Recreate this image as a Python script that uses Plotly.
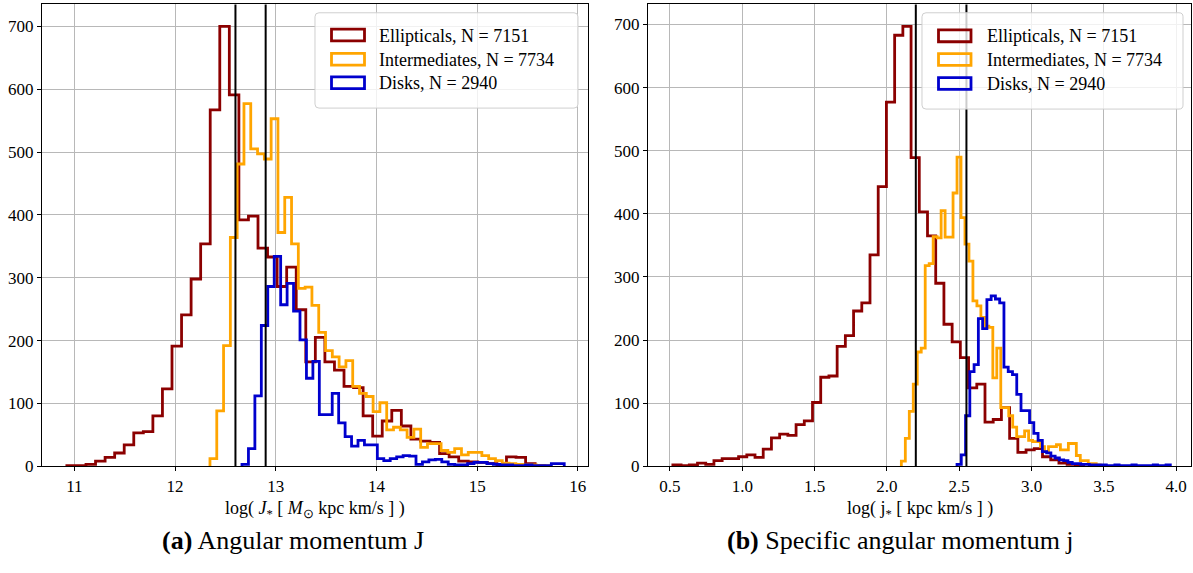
import numpy as np
import plotly.graph_objects as go

# ---------------------------------------------------------------------------
# Histogram data: counts in 50 equal-width bins between the given limits
# ---------------------------------------------------------------------------
# log(J*) [Msun kpc km/s]
J_ELL_LIMITS = (10.926, 15.671)
J_ELL_COUNTS = [1, 1, 3, 8, 14, 21, 34, 53, 55, 80,
                123, 191, 241, 298, 354, 567, 700, 591, 392, 398,
                347, 333, 286, 317, 249, 166, 205, 166, 153, 127,
                125, 80, 48, 72, 89, 64, 43, 40, 38, 20,
                15, 8, 7, 6, 4, 2, 15, 14, 4, 1]

J_INT_LIMITS = (12.347, 15.722)
J_INT_COUNTS = [12, 88, 192, 364, 481, 577, 505, 497, 489, 553,
                372, 428, 354, 283, 285, 256, 213, 184, 174, 158,
                168, 127, 116, 111, 87, 101, 58, 62, 58, 46,
                59, 30, 36, 36, 25, 22, 28, 18, 22, 22,
                17, 12, 9, 5, 4, 3, 2, 2, 1, 1]

J_DISK_LIMITS = (12.665, 15.865)
J_DISK_COUNTS = [3, 28, 112, 224, 286, 334, 257, 291, 247, 201,
                 140, 167, 82, 82, 116, 69, 47, 32, 41, 34,
                 34, 12, 9, 12, 15, 17, 16, 3, 7, 10,
                 11, 7, 3, 2, 2, 4, 6, 6, 4, 3,
                 2, 2, 1, 1, 2, 1, 1, 1, 4, 4]

# log(j*) [kpc km/s]
SJ_ELL_LIMITS = (0.52, 3.36)
SJ_ELL_COUNTS = [2, 1, 2, 5, 3, 9, 12, 12, 15, 18,
                 14, 27, 45, 51, 49, 66, 72, 101, 141, 143,
                 190, 207, 246, 259, 335, 443, 577, 683, 697, 489,
                 403, 365, 290, 225, 197, 172, 124, 130, 70, 74,
                 93, 44, 22, 26, 28, 15, 10, 5, 3, 1]

SJ_INT_LIMITS = (2.10, 3.475)
SJ_INT_COUNTS = [8, 44, 87, 130, 181, 187, 318, 321, 364, 362,
                 405, 363, 363, 433, 490, 394, 352, 325, 262, 254,
                 236, 222, 220, 140, 187, 93, 93, 80, 62, 47,
                 47, 56, 41, 39, 39, 31, 23, 31, 31, 34,
                 26, 26, 36, 36, 17, 9, 9, 4, 4, 2]

SJ_DISK_LIMITS = (2.485, 3.96)
SJ_DISK_COUNTS = [3, 18, 80, 150, 161, 234, 218, 264, 270, 265,
                  259, 157, 150, 145, 114, 88, 88, 69, 52, 41,
                  23, 21, 16, 13, 10, 9, 6, 4, 4, 3,
                  3, 2, 2, 2, 2, 1, 1, 2, 1, 1,
                  1, 2, 1, 1, 1, 1, 2, 1, 1, 2]

# Class boundaries marked with vertical lines
J_CUTS = [12.6, 12.9]
SJ_CUTS = [2.2, 2.55]

CLASS_NAMES = ["Ellipticals", "Intermediates", "Disks"]
CLASS_SIZES = [7151, 7734, 2940]
CLASS_COLORS = ["#8b0000", "#ffa500", "#0000cd"]

J_TICKS = [11, 12, 13, 14, 15, 16]
SJ_TICKS = [0.5, 1.0, 1.5, 2.0, 2.5, 3.0, 3.5, 4.0]
Y_TICKS = [0, 100, 200, 300, 400, 500, 600, 700]

# ---------------------------------------------------------------------------
W, H = 1193, 573
SERIF = "Liberation Serif"
LINE_W = 2.8


def px(x):
    return x / W


def py(y):
    return 1 - y / H


def step_outline(limits, counts):
    """Outline of a step histogram (like histtype='step')."""
    edges = np.linspace(limits[0], limits[1], len(counts) + 1)
    x = np.concatenate([[edges[0]], edges])
    y = np.concatenate([[0], np.asarray(counts, float), [0]])
    return x, y


fig = go.Figure()

panels = [
    ("x", "y", [(J_ELL_LIMITS, J_ELL_COUNTS), (J_INT_LIMITS, J_INT_COUNTS),
                (J_DISK_LIMITS, J_DISK_COUNTS)]),
    ("x2", "y2", [(SJ_ELL_LIMITS, SJ_ELL_COUNTS), (SJ_INT_LIMITS, SJ_INT_COUNTS),
                  (SJ_DISK_LIMITS, SJ_DISK_COUNTS)]),
]

for xa, ya, series in panels:
    for (limits, counts), name, n, color in zip(series, CLASS_NAMES, CLASS_SIZES, CLASS_COLORS):
        x, y = step_outline(limits, counts)
        fig.add_trace(go.Scatter(
            x=x, y=y, mode="lines", name=f"{name}, N = {n}",
            line=dict(color=color, width=LINE_W, shape="hv"),
            xaxis=xa, yaxis=ya, showlegend=False, hoverinfo="skip",
        ))

axis_common = dict(
    showgrid=True, gridcolor="#b8b8b8", gridwidth=1.1,
    showline=True, linecolor="black", linewidth=1.2, mirror=True,
    ticks="outside", ticklen=4, tickwidth=1.1, tickcolor="black",
    zeroline=False, tickfont=dict(family=SERIF, size=17, color="black"),
)

top, bottom = 4.5, 474.5
fig.update_layout(
    width=W, height=H,
    margin=dict(l=0, r=0, t=0, b=0),
    paper_bgcolor="white", plot_bgcolor="white",
    xaxis=dict(domain=[px(42), px(588)], range=[10.679, 16.101],
               tickmode="array", tickvals=J_TICKS, anchor="y", **axis_common),
    yaxis=dict(domain=[py(bottom), py(top)], range=[0, 735],
               tickmode="array", tickvals=Y_TICKS, anchor="x", **axis_common),
    xaxis2=dict(domain=[px(648), px(1191)], range=[0.348, 4.103],
                tickmode="array", tickvals=SJ_TICKS,
                ticktext=[f"{v:.1f}" for v in SJ_TICKS], anchor="y2", **axis_common),
    yaxis2=dict(domain=[py(bottom), py(top)], range=[0, 731.85],
                tickmode="array", tickvals=Y_TICKS, anchor="x2", **axis_common),
)

shapes = []
# vertical class boundaries
for xref, yref, cuts in [("x", "y domain", J_CUTS), ("x2", "y2 domain", SJ_CUTS)]:
    for c in cuts:
        shapes.append(dict(type="line", xref=xref, yref=yref, x0=c, x1=c, y0=0, y1=1,
                           line=dict(color="black", width=2), layer="above"))


def rounded_box(x0, y0, x1, y1, r=4):
    """Rounded rectangle path, pixel coordinates converted to paper units."""
    pts = [
        ("M", [(x0 + r, y0)]),
        ("L", [(x1 - r, y0)]), ("Q", [(x1, y0), (x1, y0 + r)]),
        ("L", [(x1, y1 - r)]), ("Q", [(x1, y1), (x1 - r, y1)]),
        ("L", [(x0 + r, y1)]), ("Q", [(x0, y1), (x0, y1 - r)]),
        ("L", [(x0, y0 + r)]), ("Q", [(x0, y0), (x0 + r, y0)]),
    ]
    s = ""
    for cmd, coords in pts:
        s += cmd + " ".join(f"{px(a):.5f},{py(b):.5f}" for a, b in coords) + " "
    return s + "Z"


annotations = []
legend_boxes = [
    # box (x0, y0, x1, y1), patch x-range, row centres, text x
    ((315, 13, 578, 110), (331.5, 364.5), [35.7, 60.3, 84.3], 377),
    ((922, 13, 1183, 111), (938.5, 971), [36.5, 60.5, 85.0], 985),
]
for (bx0, by0, bx1, by1), (qx0, qx1), rows, tx in legend_boxes:
    shapes.append(dict(type="path", xref="paper", yref="paper",
                       path=rounded_box(bx0, by0, bx1, by1),
                       fillcolor="rgba(255,255,255,0.8)",
                       line=dict(color="#cfcfcf", width=1), layer="above"))
    for yc, name, n, color in zip(rows, CLASS_NAMES, CLASS_SIZES, CLASS_COLORS):
        shapes.append(dict(type="rect", xref="paper", yref="paper",
                           x0=px(qx0), x1=px(qx1), y0=py(yc + 6), y1=py(yc - 6),
                           line=dict(color=color, width=LINE_W),
                           fillcolor="rgba(0,0,0,0)", layer="above"))
        annotations.append(dict(xref="paper", yref="paper", x=px(tx), y=py(yc + 0.5),
                                xanchor="left", yanchor="middle", showarrow=False,
                                text=f"{name}, N = {n}",
                                font=dict(family=SERIF, size=18, color="black")))

# axis titles
annotations.append(dict(xref="paper", yref="paper", x=px(315), y=py(519),
                        xanchor="center", yanchor="middle", showarrow=False,
                        text="log( <i>J</i><sub>*</sub> [ <i>M</i><sub>⊙</sub> kpc km/s ] )",
                        font=dict(family=SERIF, size=18, color="black")))
annotations.append(dict(xref="paper", yref="paper", x=px(920), y=py(519),
                        xanchor="center", yanchor="middle", showarrow=False,
                        text="log( j<sub>*</sub> [ kpc km/s ] )",
                        font=dict(family=SERIF, size=18, color="black")))

# sub-figure captions
annotations.append(dict(xref="paper", yref="paper", x=px(293), y=py(550),
                        xanchor="center", yanchor="middle", showarrow=False,
                        text="<b>(a)</b> Angular momentum J",
                        font=dict(family=SERIF, size=26, color="black")))
annotations.append(dict(xref="paper", yref="paper", x=px(900), y=py(550),
                        xanchor="center", yanchor="middle", showarrow=False,
                        text="<b>(b)</b> Specific angular momentum j",
                        font=dict(family=SERIF, size=26, color="black")))

fig.update_layout(shapes=shapes, annotations=annotations)
fig.write_html("out.html")
